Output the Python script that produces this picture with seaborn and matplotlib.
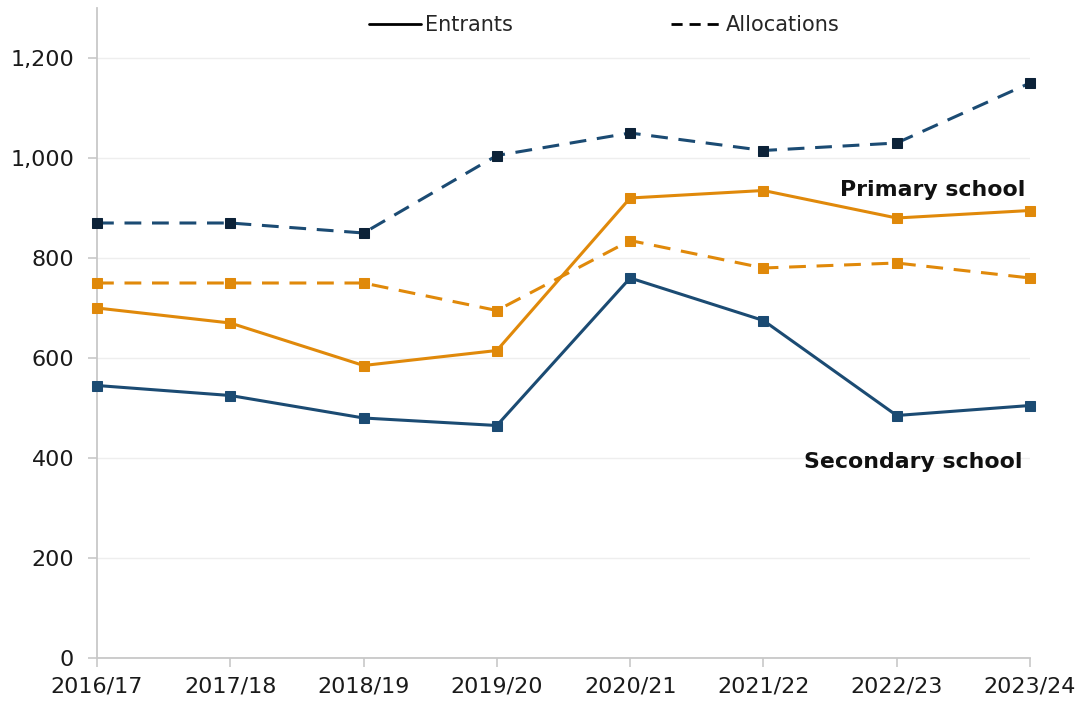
import matplotlib
matplotlib.use("Agg")
import matplotlib.pyplot as plt
import seaborn as sns
import pandas as pd
from matplotlib.lines import Line2D

years = ["2016/17", "2017/18", "2018/19", "2019/20", "2020/21", "2021/22", "2022/23", "2023/24"]
primary_entrants = [700, 670, 585, 615, 920, 935, 880, 895]
primary_allocations = [750, 750, 750, 695, 835, 780, 790, 760]
secondary_entrants = [545, 525, 480, 465, 760, 675, 485, 505]
secondary_allocations = [870, 870, 850, 1005, 1050, 1015, 1030, 1150]
yticks = [0, 200, 400, 600, 800, 1000, 1200]

ORANGE = "#e0890a"
NAVY = "#1b4b73"
NAVY_DARK = "#0c2238"

sns.set_theme(style="white")
plt.rcParams["font.family"] = ["DejaVu Sans"]

fig = plt.figure(figsize=(10.83, 7.03), dpi=100)
ax = fig.add_axes([97/1083, 45/703, (1030-97)/1083, (658-8)/703])

DASH = (0, (5.5, 3.5))
series = [
    ("Secondary allocations", secondary_allocations, NAVY, NAVY_DARK, DASH),
    ("Primary allocations", primary_allocations, ORANGE, ORANGE, DASH),
    ("Primary entrants", primary_entrants, ORANGE, ORANGE, "-"),
    ("Secondary entrants", secondary_entrants, NAVY, NAVY, "-"),
]
for name, vals, col, mcol, ls in series:
    df = pd.DataFrame({"x": range(len(years)), "v": vals})
    sns.lineplot(data=df, x="x", y="v", ax=ax, color=col, linewidth=2.2,
                 marker="s", markersize=7.5, markerfacecolor=mcol, markeredgecolor=mcol,
                 clip_on=False, zorder=3)
    ax.lines[-1].set_linestyle(ls)

ax.set_xlim(0, 7)
ax.set_ylim(0, 1300)
ax.set_xticks(range(len(years)))
ax.set_xticklabels(years)
ax.set_yticks(yticks)
ax.set_yticklabels([f"{t:,}" for t in yticks])
ax.set_xlabel("")
ax.set_ylabel("")
ax.grid(axis="y", color="#eeeeee", linewidth=1)
ax.set_axisbelow(True)
for s in ["top", "right"]:
    ax.spines[s].set_visible(False)
for s in ["left", "bottom"]:
    ax.spines[s].set_color("#c8c8c8")
    ax.spines[s].set_linewidth(1.3)
ax.tick_params(axis="both", which="both", length=6.5, width=1.2, color="#c8c8c8",
               labelsize=16, labelcolor="#1a1a1a", left=True, bottom=True)
ax.tick_params(axis="y", pad=10)
ax.tick_params(axis="x", pad=7)

ax.text(6.965, 935, "Primary school", ha="right", va="center", fontsize=15.8,
        fontweight="bold", color="#111111")
ax.text(6.94, 393, "Secondary school", ha="right", va="center", fontsize=15.8,
        fontweight="bold", color="#111111")

handles = [Line2D([], [], color="black", linewidth=2, linestyle="-"),
           Line2D([], [], color="black", linewidth=2, linestyle=(0, (4, 2.5)))]
leg = ax.legend(handles, ["Entrants", "Allocations"], loc="upper center",
                bbox_to_anchor=(0.544, 1.018), ncol=2, frameon=False, fontsize=15,
                handlelength=2.5, handletextpad=0.15, columnspacing=7.6)

fig.savefig("out.png", dpi=100)
